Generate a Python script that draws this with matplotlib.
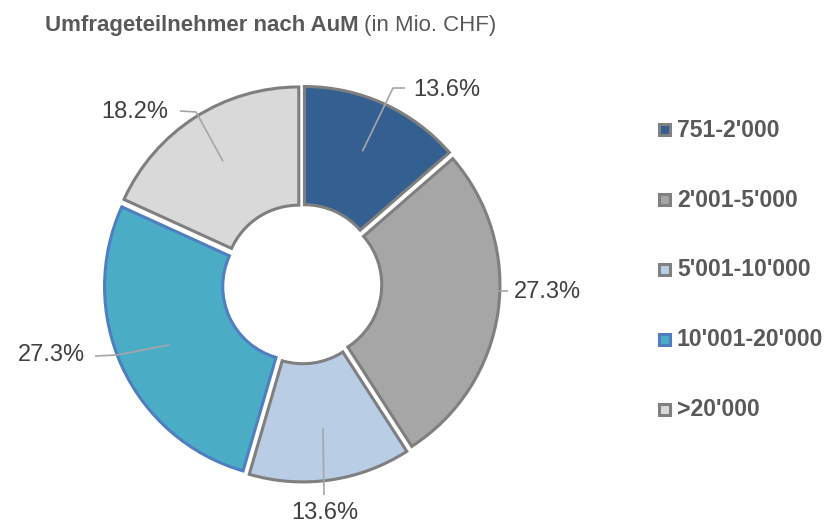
import matplotlib
matplotlib.use("Agg")
import matplotlib.pyplot as plt
from matplotlib.patches import Rectangle
import numpy as np

categories = ["751-2'000", "2'001-5'000", "5'001-10'000", "10'001-20'000", ">20'000"]
values = [13.6, 27.3, 13.6, 27.3, 18.2]
label_texts = ["13.6%", "27.3%", "13.6%", "27.3%", "18.2%"]
colors = ["#335f91", "#a6a6a6", "#b9cde5", "#4bacc6", "#d9d9d9"]
edges = ["#7f7f7f", "#7f7f7f", "#7f7f7f", "#4f7fc0", "#7f7f7f"]

W, H = 832, 524
CX, CY, U = 302, 284, 197.0   # pixel centre and pixels per data unit

def d(px, py):
    return ((px - CX) / U, (CY - py) / U)

fig = plt.figure(figsize=(W / 100, H / 100), dpi=100)
plt.rcParams['font.family'] = ['Liberation Sans', 'DejaVu Sans']
ax = fig.add_axes([0, 0, 1, 1])

wedges, _ = ax.pie(values, colors=colors, startangle=90, counterclock=False,
                   radius=0.975, explode=[0.03] * 5,
                   wedgeprops=dict(width=0.6, linewidth=2.2, edgecolor="#7f7f7f"))
for w, ec in zip(wedges, edges):
    w.set_edgecolor(ec)

ax.set_aspect('auto')
ax.set_xlim(-CX / U, (W - CX) / U)
ax.set_ylim(-(H - CY) / U, CY / U)
ax.axis('off')

# leader lines + labels
# (elbow point, end point, text anchor, ha, va) in pixel coords
layout = [
    ((393, 88), (405, 88), (413, 90), 'left', 'center'),
    ((497, 291), (508, 291), (514, 292), 'left', 'center'),
    ((324, 495), (324, 495), (325, 513), 'center', 'center'),
    ((117, 355), (95, 356), (85, 355), 'right', 'center'),
    ((196, 112), (180, 111), (168, 112), 'right', 'center'),
]
cum = np.cumsum([0] + values[:-1])
total = sum(values)
for i, (v, c0) in enumerate(zip(values, cum)):
    mid = np.deg2rad(90 - (c0 + v / 2) / total * 360)
    p0 = (0.74 * np.cos(mid), 0.74 * np.sin(mid))
    e, en, t, ha, va = layout[i]
    p1, p2, pt = d(*e), d(*en), d(*t)
    ax.plot([p0[0], p1[0], p2[0]], [p0[1], p1[1], p2[1]], color="#a6a6a6", lw=1.2,
            solid_capstyle='butt', zorder=5)
    ax.text(pt[0], pt[1], label_texts[i], ha=ha, va=va, fontsize=17, color="#404040")

# legend (manual)
leg_y = [129, 199, 269, 339, 409]
for lab, col, ec, y in zip(categories, colors, edges, leg_y):
    x0, y0 = d(658.5, y + 5.5)
    ax.add_patch(Rectangle((x0, y0), 11 / U, 11 / U, facecolor=col,
                           edgecolor=ec if ec != "#7f7f7f" else "#808080",
                           lw=2.2, clip_on=False))
    tx, ty = d(677, y + 1)
    ax.text(tx, ty, lab, ha='left', va='center', fontsize=16.6, fontweight='bold', color="#595959")

# title
t1 = fig.text(45 / W, 1 - 31 / H, "Umfrageteilnehmer nach AuM", fontsize=16, fontweight='bold',
              color="#595959", ha='left', va='baseline')
fig.canvas.draw()
bb = t1.get_window_extent()
fig.text((bb.x1 + 5) / W, 1 - 31 / H, "(in Mio. CHF)", fontsize=16, color="#595959",
         ha='left', va='baseline')

fig.savefig("out.png", dpi=100)
